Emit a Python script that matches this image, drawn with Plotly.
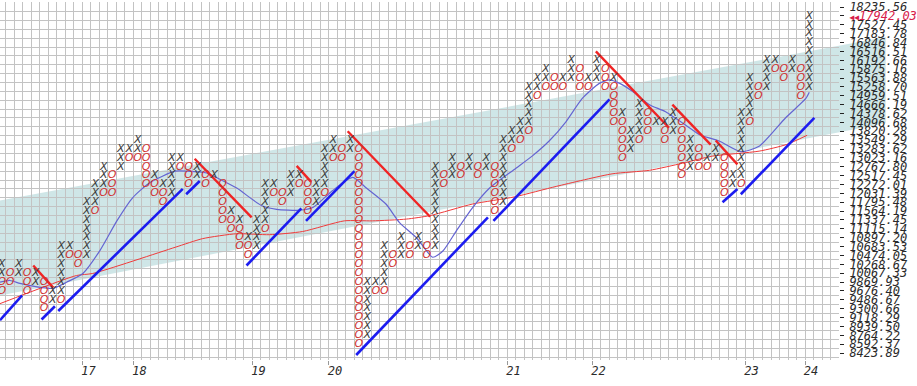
import plotly.graph_objects as go

# ---------------- data ----------------
# Point & Figure columns: bottom box row and symbols from bottom to top
col_start = [7, 8, 9, 7, 8, 5, 6, 6, 11, 10,
             11, 16, 18, 18, 21, 22, 22, 19, 18, 17,
             18, 21, 19, 20, 19, 20, 15, 14, 12, 11,
             12, 14, 18, 17, 18, 19, 16, 17, 18, 22,
             22, 23, 1, 2, 7, 7, 10, 11, 11, 12,
             11, 12, 19, 20, 20, 21, 20, 21, 16, 17,
             23, 24, 25, 29, 30, 30, 30, 31, 30, 30,
             31, 30, 26, 22, 23, 24, 25, 26, 24, 25,
             20, 21, 21, 21, 22, 18, 19, 19, 26, 29,
             30, 32, 31, 32, 29, 30]
col_marks = ["OOXX", "OO", "XX", "OOO", "XX", "OOOO", "XX", "OXXXXXX", "OX", "OO",
             "XXXXXXX", "OXXX", "OXXX", "OOO", "XXX", "OX", "OXX", "OOOOO", "OOX", "OOX",
             "XXXXX", "OX", "OOO", "XX", "OO", "X", "OOOOO", "OOX", "OOOX", "OOX",
             "XXXX", "OXXXXX", "OX", "OO", "XXX", "OX", "OOOO", "XXX", "OXXXXX", "OXX",
             "OO", "XX", "OOOOOOOOOOOOOOOOOOOOOOO", "XXXXXXX", "OX", "OXXXXX", "OO", "XXX", "OO", "XX",
             "OO", "XXXXXXXXXX", "OO", "XXX", "OO", "XX", "OO", "XX", "OOOOOO", "XXXXXXXX",
             "OXX", "OXX", "OXXXXX", "OXX", "OXX", "OO", "OX", "XXX", "OOO", "OX",
             "XXX", "OOO", "OOOOOX", "OOOOOX", "XXX", "OXXXX", "OOO", "X", "OOX", "XXX",
             "OOOOOOO", "XXXX", "OOO", "OX", "XX", "OOOOO", "XX", "OXXXXXXXX", "OXXXXX", "OO",
             "XXXX", "OX", "OO", "XX", "OOOO", "XXXXXXXXX"]

# box price levels (2% boxes), bottom row 0 .. top row 39
price_labels = ["8423.89", "8592.37", "8764.22", "8939.50", "9118.29", "9300.66", "9486.67",
                "9676.40", "9869.93", "10067.33", "10268.67", "10474.05", "10683.53", "10897.20",
                "11115.14", "11337.45", "11564.19", "11795.48", "12031.39", "12272.01", "12517.45",
                "12767.80", "13023.16", "13283.62", "13549.29", "13820.28", "14096.68", "14378.62",
                "14666.19", "14959.51", "15258.70", "15563.88", "15875.16", "16192.66", "16516.51",
                "16846.84", "17183.78", "17527.45", "17942.03", "18235.56"]
current_row = 38

year_labels = ["17", "18", "19", "20", "21", "22", "23", "24"]
year_cols = [9.5, 15.5, 29.5, 38.5, 59.5, 69.5, 87.5, 94.5]

# long moving average (red) and short moving average (slate blue), in (column, box row)
ma_long_cols = [-0.2, 8.8, 10.7, 20.4, 23.65, 27.65, 31.5, 35.4, 40.3, 43.6, 47.6, 50.4, 55.4,
                60.3, 65.3, 71.8, 76.2, 80.1, 83.6, 89.1, 92.3, 94.75]
ma_long_rows = [5.57, 8.74, 8.97, 11.92, 12.9, 13.45, 13.34, 13.7, 14.9, 14.9, 15.1, 15.5, 16.8,
                17.6, 18.8, 20.2, 20.6, 21.4, 22.2, 22.76, 23.5, 24.55]
ma_short_cols = [-0.2, 0.98, 2.15, 3.68, 6.0, 7.67, 9.55, 11.55, 13.55, 15.4, 17.4, 20.4, 21.8,
                 24.1, 25.65, 27.65, 30.6, 32.35, 35.05, 36.6, 38.9, 41.3, 42.9, 45.2, 46.8, 48.8,
                 50.7, 51.9, 53.5, 55.4, 57.4, 60.3, 62.4, 64.4, 66.4, 68.3, 70.3, 71.5, 72.7,
                 74.2, 76.2, 78.1, 81.2, 82.1, 84.4, 86.96, 89.1, 92.2, 94.6, 95.0]
ma_short_rows = [8.0, 8.18, 7.85, 7.54, 7.29, 8.0, 8.97, 11.55, 14.9, 17.5, 19.2, 20.5, 20.5,
                 20.3, 19.6, 18.6, 16.6, 16.2, 16.1, 16.4, 18.3, 19.8, 18.6, 16.8, 14.7, 13.0,
                 10.8, 11.5, 13.8, 16.4, 18.6, 20.7, 22.2, 23.9, 26.1, 28.7, 30.4, 30.8, 30.4,
                 29.5, 28.0, 27.2, 25.2, 24.6, 23.9, 22.7, 23.3, 26.5, 28.7, 29.4]

# trend lines: (col0, row0, col1, row1)
support_lines = [(-0.2, 3.7, 2.4, 6.5), (4.69, 3.78, 6.26, 5.27), (6.65, 4.74, 21.3, 18.5),
                 (21.7, 17.9, 23.3, 19.4), (28.8, 9.87, 35.25, 16.3), (35.8, 14.9, 41.5, 20.5),
                 (41.7, -0.22, 57.2, 15.3), (57.85, 14.9, 71.5, 28.6), (84.8, 17.0, 86.55, 18.5),
                 (86.95, 17.9, 95.6, 26.5)]
resistance_lines = [(3.71, 9.87, 6.06, 7.37), (22.7, 21.9, 29.4, 15.3), (34.7, 21.1, 36.4, 19.3),
                    (40.7, 25.0, 50.4, 15.36), (69.9, 34.0, 78.5, 25.4), (78.9, 28.0, 83.4, 23.5),
                    (84.0, 23.96, 86.55, 21.27)]

# regression channel (columns and box rows of its edges)
band_cols = [-0.2, 104.0]
band_upper = [17.2, 35.62]
band_lower = [6.5, 25.9]

X_RANGE = [-0.2, 98.5]
Y_RANGE = [-0.785, 39.574]

# ---------------- build ----------------
xs_x, xs_y, os_x, os_y = [], [], [], []
for c, (s, m) in enumerate(zip(col_start, col_marks)):
    for k, ch in enumerate(m):
        if ch == "X":
            xs_x.append(c); xs_y.append(s + k)
        elif ch == "O":
            os_x.append(c); os_y.append(s + k)

def seg(lines):
    xx, yy = [], []
    for x0, y0, x1, y1 in lines:
        xx += [x0, x1, None]
        yy += [y0, y1, None]
    return xx, yy

def to_px(c):
    return (c - X_RANGE[0]) / (X_RANGE[1] - X_RANGE[0])

def to_py(r):
    return (r - Y_RANGE[0]) / (Y_RANGE[1] - Y_RANGE[0])

fig = go.Figure()

path = (f"M{to_px(band_cols[0])},{to_py(band_upper[0])} "
        f"L{to_px(band_cols[1])},{to_py(band_upper[1])} "
        f"L{to_px(band_cols[1])},{to_py(band_lower[1])} "
        f"L{to_px(band_cols[0])},{to_py(band_lower[0])} Z")
fig.add_shape(type="path", path=path, xref="paper", yref="paper",
              fillcolor="rgba(140,196,198,0.42)", line_width=0, layer="below")

# lines on the grid axes (x, y)
fig.add_trace(go.Scatter(x=ma_long_cols, y=ma_long_rows, mode="lines", hoverinfo="skip",
                         line=dict(color="#f03a3a", width=1, shape="spline", smoothing=0.6)))
fig.add_trace(go.Scatter(x=ma_short_cols, y=ma_short_rows, mode="lines", hoverinfo="skip",
                         line=dict(color="#6464d2", width=1.2, shape="spline", smoothing=0.6)))
sx, sy = seg(support_lines)
fig.add_trace(go.Scatter(x=sx, y=sy, mode="lines", hoverinfo="skip",
                         line=dict(color="#1c1cf0", width=2.6)))
rx, ry = seg(resistance_lines)
fig.add_trace(go.Scatter(x=rx, y=ry, mode="lines", hoverinfo="skip",
                         line=dict(color="#f02424", width=2.4)))

# boxes on the labelled axes (x2, y2) drawn on top
fig.add_trace(go.Scatter(x=xs_x, y=xs_y, mode="text", text=["X"] * len(xs_x),
                         textposition="middle center", xaxis="x2", yaxis="y2", hoverinfo="skip",
                         textfont=dict(family="DejaVu Sans", size=11, color="#3c3c3c", style="italic")))
fig.add_trace(go.Scatter(x=os_x, y=os_y, mode="text", text=["O"] * len(os_x),
                         textposition="middle center", xaxis="x2", yaxis="y2", hoverinfo="skip",
                         textfont=dict(family="DejaVu Sans", size=11, color="#d03030", style="italic")))

ticktext = []
for i, lab in enumerate(price_labels):
    if i == current_row:
        ticktext.append('<span style="color:#d8204a"><span style="font-size:8px">◀◀</span>'
                        + lab + '</span>')
    else:
        ticktext.append(lab)

label_font = dict(family="DejaVu Sans Mono", size=12, color="#2a2a2a", style="italic")
grid_color = "#c3c3c3"

fig.update_layout(
    width=917, height=386, autosize=False,
    margin=dict(l=0, r=77, t=0, b=26),
    paper_bgcolor="white", plot_bgcolor="rgba(0,0,0,0)",
    showlegend=False,
    # grid-only axes (box boundaries)
    xaxis=dict(range=X_RANGE, tick0=-0.5, dtick=1, showticklabels=False, ticks="",
               showgrid=True, gridcolor=grid_color, gridwidth=1, zeroline=False, showline=False),
    yaxis=dict(range=Y_RANGE, tick0=-0.5, dtick=1, showticklabels=False, ticks="",
               showgrid=True, gridcolor=grid_color, gridwidth=1, zeroline=False, showline=False),
    # labelled axes
    xaxis2=dict(range=X_RANGE, overlaying="x", anchor="y2", side="bottom",
                tickmode="array", tickvals=year_cols, ticktext=year_labels,
                ticks="outside", ticklen=4, tickcolor="#999", tickfont=label_font,
                ticklabelstandoff=-4, ticklabelshift=6,
                showgrid=False, zeroline=False, showline=False),
    yaxis2=dict(range=Y_RANGE, overlaying="y", anchor="x2", side="right",
                tickmode="array", tickvals=list(range(len(price_labels))),
                ticktext=ticktext, ticks="outside", ticklen=4, tickcolor="#222",
                tickfont=label_font, ticklabelstandoff=3, ticklabeloverflow="allow",
                showgrid=False, zeroline=False, showline=False),
)

fig.write_html("out.html")
